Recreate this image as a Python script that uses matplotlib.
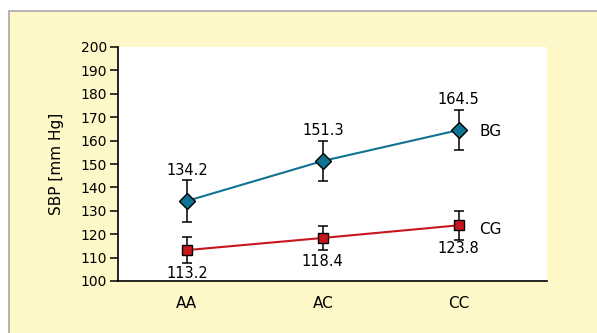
import matplotlib
matplotlib.use("Agg")
import matplotlib.pyplot as plt
from matplotlib.patches import Rectangle

# genotype groups on the x axis
genotypes = ["AA", "AC", "CC"]

# mean systolic pressure and error (mm Hg)
bg_mean = [134.2, 151.3, 164.5]
bg_err = [8.8, 8.4, 8.4]
cg_mean = [113.2, 118.4, 123.8]
cg_err = [5.4, 5.3, 6.2]

yticks = list(range(100, 201, 10))

BG_COLOR = "#0f7391"
CG_COLOR = "#c8161e"
PANEL = "#fef8c8"

plt.rcParams["font.family"] = "DejaVu Sans"
plt.rcParams["font.size"] = 10

fig = plt.figure(figsize=(5.97, 3.33), dpi=100)
fig.patch.set_facecolor("white")

# yellow panel behind the chart, running off the right and bottom edges
fig.patches.append(Rectangle((9 / 597, -0.05), 1.05, 1.05 - 11 / 333,
                             transform=fig.transFigure, facecolor=PANEL,
                             edgecolor="#a8a8a8", linewidth=1.2, zorder=-10))

ax = fig.add_axes([118 / 597, 52 / 333, 429 / 597, 234 / 333])
ax.set_facecolor("white")

x = list(range(len(genotypes)))

ax.plot(x, bg_mean, color=BG_COLOR, lw=1.5, zorder=2)
ax.errorbar(x, bg_mean, yerr=bg_err, fmt="none", ecolor="black", elinewidth=1.1,
            capsize=3.5, capthick=1.1, zorder=3)
ax.plot(x, bg_mean, ls="none", marker="D", ms=8.5, mfc=BG_COLOR, mec="black",
        mew=1.0, zorder=4)

ax.plot(x, cg_mean, color=CG_COLOR, lw=1.5, zorder=2)
ax.errorbar(x, cg_mean, yerr=cg_err, fmt="none", ecolor="black", elinewidth=1.1,
            capsize=3.5, capthick=1.1, zorder=3)
ax.plot(x, cg_mean, ls="none", marker="s", ms=7.5, mfc=CG_COLOR, mec="black",
        mew=1.0, zorder=4)

# value labels: above for BG, below for CG
for xi, v in zip(x, bg_mean):
    ax.annotate(f"{v:.1f}", (xi, v), xytext=(0, 22), textcoords="offset points",
                ha="center", va="center", fontsize=10.5)
for xi, v in zip(x, cg_mean):
    ax.annotate(f"{v:.1f}", (xi, v), xytext=(0, -17), textcoords="offset points",
                ha="center", va="center", fontsize=10.5)

ax.annotate("BG", (x[-1], bg_mean[-1]), xytext=(15, -1), textcoords="offset points",
            ha="left", va="center", fontsize=11)
ax.annotate("CG", (x[-1], cg_mean[-1]), xytext=(15, -3), textcoords="offset points",
            ha="left", va="center", fontsize=11)

ax.set_xlim(-0.507, 2.65)
ax.set_ylim(100, 200)
ax.set_yticks(yticks)
ax.set_xticks(x)
ax.set_xticklabels(genotypes)
ax.tick_params(axis="x", length=0, pad=11, labelsize=11)
ax.tick_params(axis="y", length=6, width=1.1, direction="out", pad=2, labelsize=10)
ax.set_ylabel("SBP [mm Hg]", fontsize=11, labelpad=12)

for side in ("top", "right"):
    ax.spines[side].set_visible(False)
for side in ("left", "bottom"):
    ax.spines[side].set_linewidth(1.2)

fig.savefig("out.png", dpi=100, facecolor=fig.get_facecolor())
